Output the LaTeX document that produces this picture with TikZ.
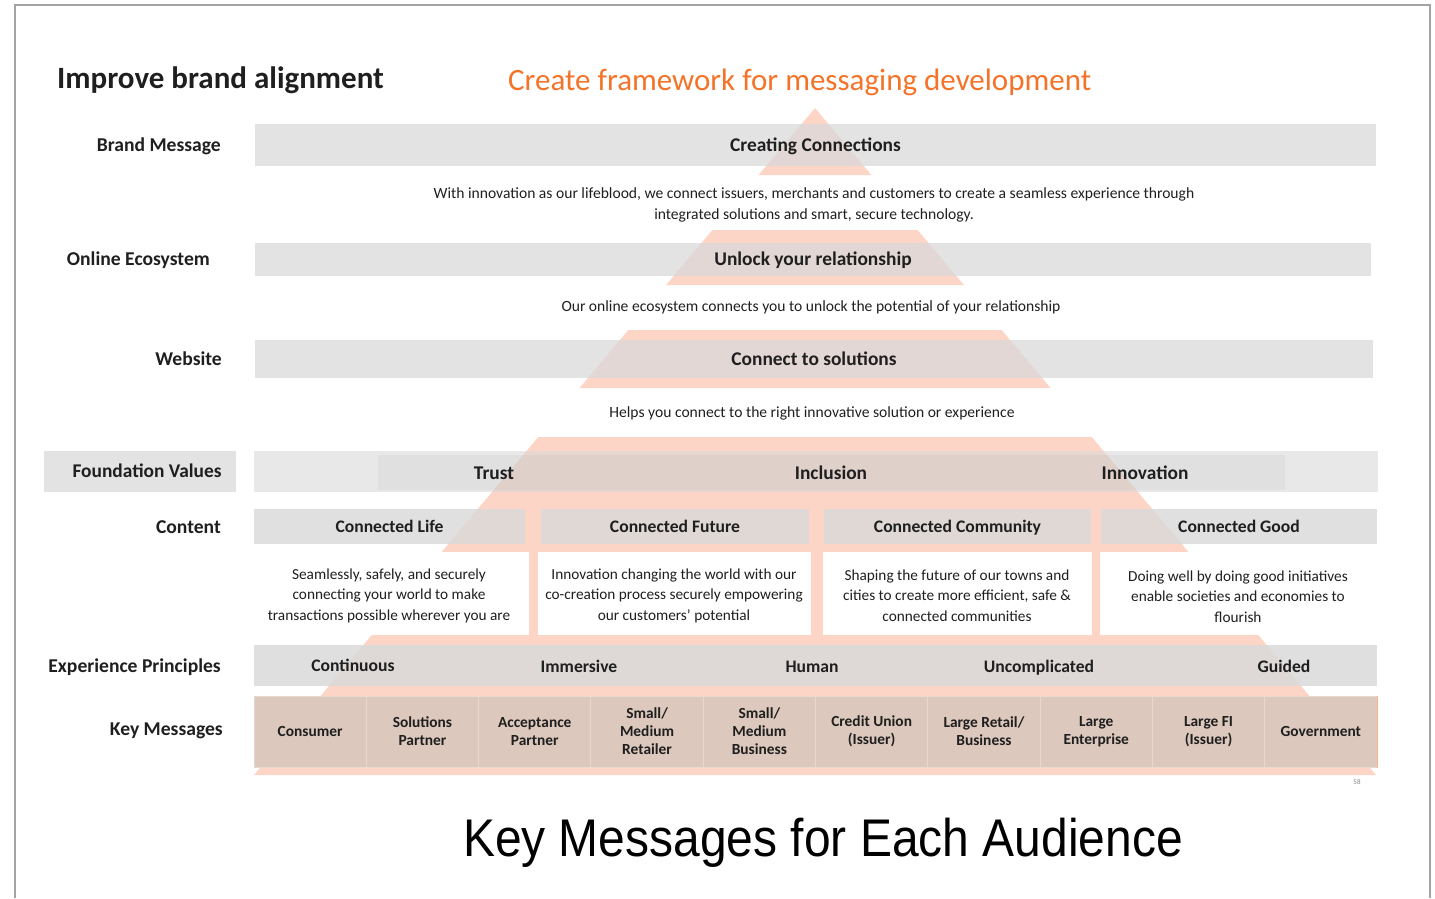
\documentclass[tikz,border=0pt]{standalone}
\usepackage{fontspec}
\setmainfont{Carlito}
\newfontfamily\capfont{Liberation Sans}
\definecolor{peach}{HTML}{FDD5C7}
\definecolor{barg}{HTML}{D9D9D9}
\definecolor{keyc}{HTML}{DCC8BC}
\definecolor{keyline}{HTML}{E6D9D0}
\definecolor{orangeT}{HTML}{F47328}
\definecolor{framec}{HTML}{A3A3A3}
\definecolor{ink}{HTML}{1F1F1F}
\begin{document}
\begin{tikzpicture}[x=1pt,y=-1pt,
  txt/.style={inner sep=0pt, text=ink},
  lbl/.style={txt, font=\fontsize{19.6}{22}\selectfont\bfseries, text height=12.6pt, text depth=0pt, anchor=east},
  bartext/.style={txt, font=\fontsize{19.4}{22}\selectfont\bfseries, text height=12.5pt, text depth=0pt},
  exptext/.style={txt, font=\fontsize{17.6}{20}\selectfont\bfseries, text height=11.3pt, text depth=0pt},
  bar/.style={fill=barg, fill opacity=.75, text opacity=1, inner sep=0pt, text=ink,
    text height=12.5pt, text depth=0pt, font=\fontsize{19.4}{22}\selectfont\bfseries},
  hbar/.style={bar, fill opacity=.82, text height=11.3pt, font=\fontsize{17.6}{20}\selectfont\bfseries},
  desc/.style={txt, font=\fontsize{15.6}{21}\selectfont, align=center},
  cdesc/.style={txt, font=\fontsize{15.3}{20.5}\selectfont, align=center},
  kcell/.style={fill=keyc, draw=keyline, line width=1pt, minimum width=112.3pt,
    minimum height=71pt, inner sep=0pt, align=center, text=ink,
    font=\fontsize{15.4}{18}\selectfont\bfseries},
  layer/.style={fill=peach},
  whitebox/.style={fill=white}
]
\useasboundingbox (0,0) rectangle (1435,898);
% frame
\draw[framec, line width=2pt] (15,898) -- (15,5) -- (1430,5) -- (1430,898);
% titles
\node[txt, anchor=west, font=\fontsize{31}{34}\selectfont\bfseries, text height=20pt, text depth=0pt] (title) at (57,78) {Improve brand alignment};
\node[txt, anchor=west, text=orangeT, font=\fontsize{31}{34}\selectfont, text height=20pt, text depth=0pt] (subtitle) at (508,80) {Create framework for messaging development};
% pyramid
\fill[layer] (815,108) -- (871.3,175) -- (758.7,175) -- cycle;
\fill[layer] (712.4,230) -- (917.6,230) -- (963.9,285) -- (666.1,285) -- cycle;
\fill[layer] (628.3,330) -- (1001.7,330) -- (1050.5,388) -- (579.5,388) -- cycle;
\fill[layer] (538.3,437) -- (1091.7,437) -- (1376,775) -- (254,775) -- cycle;
% row labels
\node[lbl] (lBM) at (221,145) {Brand Message};
\node[lbl] (lOE) at (210,259) {Online Ecosystem};
\node[lbl] (lWS) at (222,359) {Website};
\node[lbl] (lCT) at (221,527) {Content};
\node[lbl] (lEP) at (221,666) {Experience Principles};
\node[lbl] (lKM) at (223,729) {Key Messages};
\node[bar, minimum width=192pt, minimum height=41pt] (bFVl) at (140,471.5) {};
\node[bartext] (lFV) at (147,471.5) {Foundation Values};
% bars
\node[bar, minimum width=1121pt, minimum height=42pt] (bBM) at (815.5,145) {Creating Connections};
\node[desc] (dBM) at (814,204.5) {With innovation as our lifeblood, we connect issuers, merchants and customers to create a seamless experience through\\integrated solutions and smart, secure technology.};
\node[bar, minimum width=1116pt, minimum height=33pt] (bOE) at (813,259.5) {Unlock your relationship};
\node[desc] (dOE) at (811,307) {Our online ecosystem connects you to unlock the potential of your relationship};
\node[bar, minimum width=1118pt, minimum height=38pt] (bWS) at (814,359) {Connect to solutions};
\node[desc] (dWS) at (812,413) {Helps you connect to the right innovative solution or experience};
% foundation values
\node[bar, fill opacity=.6, minimum width=1124pt, minimum height=41pt] (bFV) at (816,471.5) {};
\node[fill=black, fill opacity=.03, minimum width=907pt, minimum height=35pt, inner sep=0pt] (bFVin) at (831.5,472.5) {};
\node[bartext] (tTrust) at (494,473) {Trust};
\node[bartext] (tIncl) at (831,473) {Inclusion};
\node[bartext] (tInno) at (1145,473) {Innovation};
% content
\node[hbar, minimum width=271pt, minimum height=35pt] (h1) at (389.5,526.5) {Connected Life};
\node[hbar, minimum width=268pt, minimum height=35pt] (h2) at (675,526.5) {Connected Future};
\node[hbar, minimum width=267pt, minimum height=35pt] (h3) at (957.5,526.5) {Connected Community};
\node[hbar, minimum width=276pt, minimum height=35pt] (h4) at (1239,526.5) {Connected Good};
\fill[whitebox] (254,552) rectangle (529,635);
\fill[whitebox] (538,552) rectangle (811,635);
\fill[whitebox] (823,552) rectangle (1092,635);
\fill[whitebox] (1100,552) rectangle (1377,635);
\node[cdesc] (c1) at (389,595.5) {Seamlessly, safely, and securely\\connecting your world to make\\transactions possible wherever you are};
\node[cdesc] (c2) at (674,595.5) {Innovation changing the world with our\\co-creation process securely empowering\\our customers’ potential};
\node[cdesc] (c3) at (957,595.5) {Shaping the future of our towns and\\cities to create more efficient, safe \&\\connected communities};
\node[cdesc] (c4) at (1238,596.5) {Doing well by doing good initiatives\\enable societies and economies to\\flourish};
% experience principles
\node[bar, fill opacity=.85, minimum width=1123pt, minimum height=41pt] (bEP) at (815.5,665.5) {};
\node[exptext] (e1) at (353,666) {Continuous};
\node[exptext] (e2) at (579,667) {Immersive};
\node[exptext] (e3) at (812,667) {Human};
\node[exptext] (e4) at (1039,667) {Uncomplicated};
\node[exptext] (e5) at (1284,667) {Guided};
% key messages
\node[kcell] (k1) at (310.15,731.5) {Consumer};
\node[kcell] (k2) at (422.45,731.5) {Solutions\\Partner};
\node[kcell] (k3) at (534.75,731.5) {Acceptance\\Partner};
\node[kcell] (k4) at (647.05,731.5) {Small/\\Medium\\Retailer};
\node[kcell] (k5) at (759.35,731.5) {Small/\\Medium\\Business};
\node[kcell] (k6) at (871.65,731.5) {Credit Union\\(Issuer)};
\node[kcell] (k7) at (983.95,731.5) {Large Retail/\\Business};
\node[kcell] (k8) at (1096.25,731.5) {Large\\Enterprise};
\node[kcell] (k9) at (1208.55,731.5) {Large FI\\(Issuer)};
\node[kcell] (k10) at (1320.85,731.5) {Government};
\draw[orangeT!55, line width=1.5pt] (k10.north east) -- (k10.south east);
\node[font=\fontsize{7}{8}\selectfont, text=gray, inner sep=0pt] (pg) at (1357,782) {58};
% caption
\node[font=\capfont\fontsize{53}{60}\selectfont, anchor=base, xscale=0.905, inner sep=0pt] (cap) at (823,856) {Key Messages for Each Audience};
\end{tikzpicture}
\end{document}
